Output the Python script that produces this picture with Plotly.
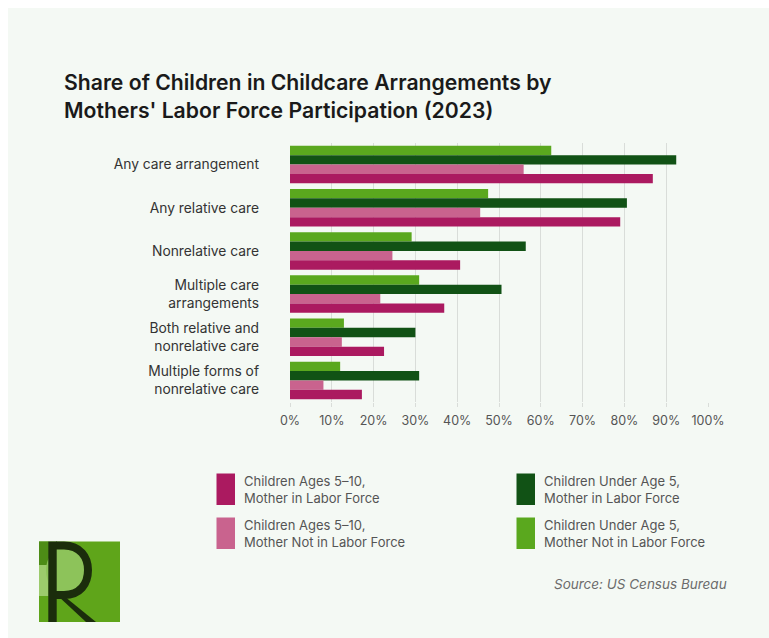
import plotly.graph_objects as go

# Categories (top to bottom) and shares (%) for each group of children
categories = [
    "Any care arrangement",
    "Any relative care",
    "Nonrelative care",
    "Multiple care<br>arrangements",
    "Both relative and<br>nonrelative care",
    "Multiple forms of<br>nonrelative care",
]
under5_not_in_lf = [62.5, 47.4, 29.1, 30.9, 12.9, 12.0]
under5_in_lf = [92.4, 80.6, 56.4, 50.6, 30.0, 30.9]
ages5_10_not_in_lf = [55.9, 45.5, 24.5, 21.6, 12.4, 8.0]
ages5_10_in_lf = [86.8, 79.0, 40.7, 36.9, 22.5, 17.2]

x_ticks = [0, 10, 20, 30, 40, 50, 60, 70, 80, 90, 100]
x_tick_labels = [f"{t}%" for t in x_ticks]

series_names = [
    "Children Under Age 5,<br>Mother Not in Labor Force",
    "Children Under Age 5,<br>Mother in Labor Force",
    "Children Ages 5–10,<br>Mother Not in Labor Force",
    "Children Ages 5–10,<br>Mother in Labor Force",
]
series_values = [under5_not_in_lf, under5_in_lf, ages5_10_not_in_lf, ages5_10_in_lf]
series_colors = ["#5aa81e", "#115215", "#c9638e", "#ab1a60"]

W, H = 769, 638
L, R, T, B = 290, 61, 143, 236
FONT = "Inter"

# pixel -> paper coordinate helpers for decorations
pw = W - L - R
ph = H - T - B


def px(x):
    return (x - L) / pw


def py(y):
    return (H - B - y) / ph


fig = go.Figure()
for name, vals, col in zip(series_names, series_values, series_colors):
    fig.add_trace(go.Bar(
        y=categories, x=vals, name=name, orientation="h",
        marker=dict(color=col, line=dict(width=0)),
        showlegend=False,
    ))

shapes = []
# light panel behind the whole chart
shapes.append(dict(type="rect", xref="paper", yref="paper", layer="below",
                   x0=px(8), x1=px(W + 2), y0=py(8), y1=py(H + 2),
                   fillcolor="#f4f9f4", line=dict(width=0)))

annotations = []
annotations.append(dict(
    xref="paper", yref="paper", x=px(62), y=py(96), xanchor="left", yanchor="middle",
    text="Share of Children in Childcare Arrangements by<br>Mothers' Labor Force Participation (2023)",
    showarrow=False, align="left",
    font=dict(family=FONT, size=21.2, color="#1a1a1a", weight=600),
))

# legend laid out as a 2x2 grid
legend_items = [
    (series_names[3], series_colors[3], 216.5, 473.5),
    (series_names[2], series_colors[2], 216.5, 517.5),
    (series_names[1], series_colors[1], 516.5, 473.5),
    (series_names[0], series_colors[0], 516.5, 517.5),
]
for name, col, lx, ly in legend_items:
    shapes.append(dict(type="rect", xref="paper", yref="paper",
                       x0=px(lx), x1=px(lx + 18.5), y0=py(ly), y1=py(ly + 31.5),
                       fillcolor=col, line=dict(width=0)))
    annotations.append(dict(
        xref="paper", yref="paper", x=px(lx + 25), y=py(ly + 16), xanchor="left",
        yanchor="middle", text=name, showarrow=False, align="left",
        font=dict(family=FONT, size=13, color="#555555"),
    ))

annotations.append(dict(
    xref="paper", yref="paper", x=px(729), y=py(584), xanchor="right", yanchor="middle",
    text="<i>Source: US Census Bureau</i>", showarrow=False,
    font=dict(family=FONT, size=13.5, color="#6b6b6b"),
))

# logo mark
shapes.append(dict(type="rect", xref="paper", yref="paper",
                   x0=px(39), x1=px(120), y0=py(541.5), y1=py(622),
                   fillcolor="#5fa51a", line=dict(width=0)))
shapes.append(dict(type="rect", xref="paper", yref="paper",
                   x0=px(39), x1=px(48.5), y0=py(541.5), y1=py(565),
                   fillcolor="#4d8c16", line=dict(width=0)))
shapes.append(dict(type="rect", xref="paper", yref="paper",
                   x0=px(39), x1=px(48.5), y0=py(565), y1=py(596),
                   fillcolor="#9ccb6c", line=dict(width=0)))
shapes.append(dict(type="circle", xref="paper", yref="paper",
                   x0=px(46), x1=px(86), y0=py(546), y1=py(595),
                   fillcolor="#8dc35a", line=dict(width=0)))
shapes.append(dict(type="rect", xref="paper", yref="paper",
                   x0=px(48.3), x1=px(56.7), y0=py(541.5), y1=py(622),
                   fillcolor="#1b2d0c", line=dict(width=0)))
bowl = (f"M {px(56)},{py(545.5)} L {px(64)},{py(545.5)} "
        f"C {px(80)},{py(545.5)} {px(88)},{py(557)} {px(88)},{py(570)} "
        f"C {px(88)},{py(584)} {px(80)},{py(595)} {px(64)},{py(595)} "
        f"L {px(56)},{py(595)}")
shapes.append(dict(type="path", xref="paper", yref="paper", path=bowl,
                   line=dict(color="#1b2d0c", width=8)))
shapes.append(dict(type="path", xref="paper", yref="paper",
                   path=(f"M {px(58)},{py(596)} L {px(64)},{py(596)} L {px(96)},{py(622)} "
                         f"L {px(86)},{py(622)} Z"),
                   fillcolor="#1b2d0c", line=dict(width=0)))

fig.update_layout(
    width=W, height=H,
    margin=dict(l=L, r=R, t=T, b=B),
    paper_bgcolor="white",
    plot_bgcolor="rgba(0,0,0,0)",
    barmode="group", bargap=0.13, bargroupgap=0,
    font=dict(family=FONT),
    xaxis=dict(
        range=[0, 100], tickvals=x_ticks, ticktext=x_tick_labels,
        showgrid=True, gridcolor="#d9ddd9", gridwidth=1, zeroline=False,
        ticks="outside", ticklen=4, tickcolor="#d9ddd9", ticklabelstandoff=3,
        tickfont=dict(family=FONT, size=12.5, color="#555555"),
        showline=False, fixedrange=True,
    ),
    yaxis=dict(
        type="category", autorange="reversed", showgrid=False, zeroline=False,
        ticks="", ticklabelstandoff=30,
        tickfont=dict(family=FONT, size=13.8, color="#333333"),
        showline=False, fixedrange=True,
    ),
    shapes=shapes,
    annotations=annotations,
)

fig.write_html("out.html")
